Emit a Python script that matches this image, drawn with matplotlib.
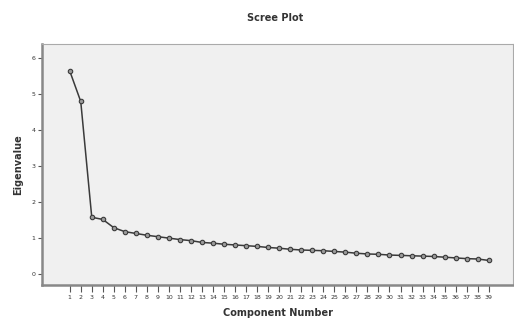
import matplotlib.pyplot as plt

components = list(range(1, 40))
eigenvalues = [5.65, 4.80, 1.58, 1.52, 1.29, 1.18, 1.13, 1.08, 1.04, 1.00,
               0.96, 0.93, 0.88, 0.86, 0.83, 0.81, 0.79, 0.77, 0.74, 0.72,
               0.69, 0.67, 0.66, 0.65, 0.63, 0.61, 0.58, 0.56, 0.55, 0.53,
               0.52, 0.51, 0.50, 0.49, 0.47, 0.45, 0.43, 0.42, 0.38]
y_ticks = [0, 1, 2, 3, 4, 5, 6]

fig = plt.figure(figsize=(5.14, 3.23), dpi=100)
ax = fig.add_axes([0.082, 0.118, 0.916, 0.746])
ax.set_facecolor('#f0f0f0')

ax.plot(components, eigenvalues, color='#3a3a3a', linewidth=1.1,
        marker='o', markersize=3.2, markerfacecolor='#9a9a9a',
        markeredgecolor='#3a3a3a', markeredgewidth=0.8)

ax.set_xlim(-1.5, 41.2)
ax.set_ylim(-0.3, 6.4)
ax.set_xticks(components)
ax.set_xticklabels([str(c) for c in components], fontsize=4.5, color='#333333')
ax.set_yticks(y_ticks)
ax.set_yticklabels([str(v) for v in y_ticks], fontsize=4.5, color='#333333')
ax.tick_params(axis='x', length=5, width=0.8, color='#555555', pad=2)
ax.tick_params(axis='y', length=3, width=0.8, color='#555555', pad=2)

for side in ['left', 'bottom']:
    ax.spines[side].set_color('#888888')
    ax.spines[side].set_linewidth(1.8)
for side in ['top', 'right']:
    ax.spines[side].set_color('#aaaaaa')
    ax.spines[side].set_linewidth(0.8)

ax.set_xlabel('Component Number', fontsize=7, fontweight='bold', color='#333333', labelpad=6)
ax.set_ylabel('Eigenvalue', fontsize=7, fontweight='bold', color='#333333', labelpad=6)
fig.text(0.535, 0.945, 'Scree Plot', ha='center', va='center',
         fontsize=7, fontweight='bold', color='#333333')

plt.savefig('out.png', dpi=100)
